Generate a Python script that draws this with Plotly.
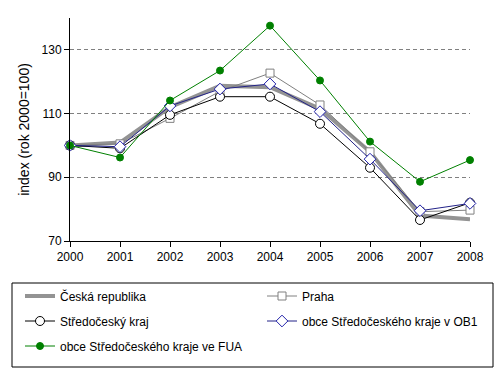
import plotly.graph_objects as go

years = [2000, 2001, 2002, 2003, 2004, 2005, 2006, 2007, 2008]
cr = [100, 100.9, 112.0, 118.7, 118.3, 111.5, 98.0, 78.0, 76.8]
praha = [100, 100.5, 108.5, 117.0, 122.7, 112.7, 98.0, 79.2, 79.7]
stc = [100, 99.1, 109.6, 115.3, 115.3, 106.8, 93.0, 76.6, 82.0]
ob1 = [100, 99.6, 112.4, 117.7, 119.3, 110.6, 95.7, 79.5, 81.8]
fua = [100, 96.2, 114.1, 123.5, 137.6, 120.4, 101.2, 88.6, 95.4]
names = ["Česká republika", "Praha", "Středočeský kraj",
         "obce Středočeského kraje v OB1", "obce Středočeského kraje ve FUA"]
yticks = [70, 90, 110, 130]

fig = go.Figure()
fig.add_trace(go.Scatter(x=years, y=cr, name=names[0], mode="lines",
                         line=dict(color="#939393", width=4), cliponaxis=False,
                         legend="legend", legendgroup="a"))
fig.add_trace(go.Scatter(x=years, y=praha, name=names[1], mode="lines+markers",
                         line=dict(color="#808080", width=1),
                         marker=dict(symbol="square", size=8, color="white",
                                     line=dict(color="#808080", width=1)),
                         cliponaxis=False, legend="legend2", legendgroup="b"))
fig.add_trace(go.Scatter(x=years, y=stc, name=names[2], mode="lines+markers",
                         line=dict(color="black", width=1),
                         marker=dict(symbol="circle", size=9, color="white",
                                     line=dict(color="black", width=1)),
                         cliponaxis=False, legend="legend", legendgroup="c"))
fig.add_trace(go.Scatter(x=years, y=ob1, name=names[3], mode="lines+markers",
                         line=dict(color="#222288", width=1),
                         marker=dict(symbol="diamond", size=9, color="white",
                                     line=dict(color="#2222aa", width=1)),
                         cliponaxis=False, legend="legend2", legendgroup="d"))
fig.add_trace(go.Scatter(x=years, y=fua, name=names[4], mode="lines+markers",
                         line=dict(color="#008000", width=1),
                         marker=dict(symbol="circle", size=7, color="#008000",
                                     line=dict(color="#008000", width=1)),
                         cliponaxis=False, legend="legend", legendgroup="e"))

# page body has an 8px margin; figure is drawn at (8, 8)
W, H = 494, 368
ml, mt, mr, mb = 62, 10, 32, 135
pw, ph = W - ml - mr, H - mt - mb

def px(x):
    return (x - ml) / pw

def py(y):
    return (H - mb - y) / ph

leg_common = dict(orientation="v", xanchor="left", yanchor="top",
                  bgcolor="rgba(0,0,0,0)", borderwidth=0, tracegroupgap=6,
                  traceorder="grouped", itemwidth=30)

fig.update_layout(
    width=W, height=H,
    margin=dict(l=ml, r=mr, t=mt, b=mb, autoexpand=False),
    paper_bgcolor="white", plot_bgcolor="white",
    font=dict(family="Liberation Sans, Arial, sans-serif", size=12, color="black"),
    xaxis=dict(range=[2000, 2008], tickvals=years, ticktext=[str(y) for y in years],
               showgrid=False, showline=True, linecolor="black", linewidth=1,
               ticks="outside", ticklen=5, tickcolor="black", zeroline=False,
               automargin=False),
    yaxis=dict(range=[70, 140], tickvals=yticks, showgrid=True,
               gridcolor="#808080", griddash="4px,3px", gridwidth=1,
               showline=True, linecolor="black", linewidth=1,
               ticks="outside", ticklen=5, tickcolor="black", zeroline=False,
               automargin=False,
               title=dict(text="index (rok 2000=100)", standoff=8)),
    showlegend=True,
    legend=dict(x=px(12), y=py(273.5), **leg_common),
    legend2=dict(x=px(254), y=py(273.5), **leg_common),
    shapes=[dict(type="rect", xref="paper", yref="paper",
                 x0=px(4), x1=px(485), y0=py(275), y1=py(359),
                 line=dict(color="black", width=1), fillcolor="rgba(0,0,0,0)")],
)
fig.write_html("out.html")
